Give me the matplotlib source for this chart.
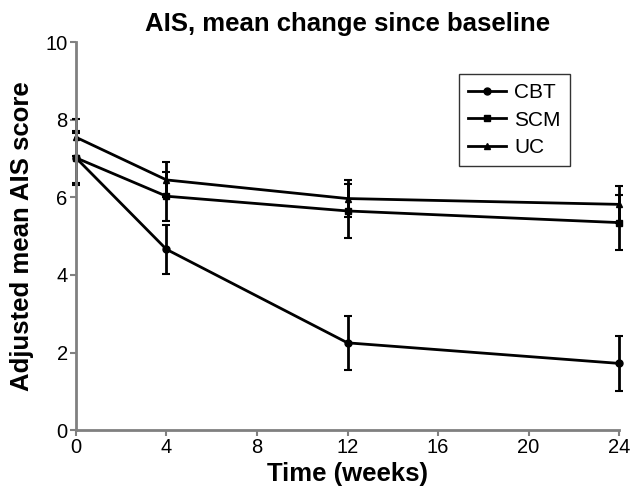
import matplotlib.pyplot as plt

weeks = [0, 4, 12, 24]

cbt = [7.02, 4.66, 2.25, 1.72]
cbt_err = [0.70, 0.63, 0.70, 0.70]

scm = [7.02, 6.03, 5.65, 5.35]
scm_err = [0.65, 0.63, 0.70, 0.70]

uc = [7.55, 6.45, 5.97, 5.82]
uc_err = [0.48, 0.45, 0.48, 0.48]

series = [('CBT', cbt, cbt_err, 'o'),
          ('SCM', scm, scm_err, 's'),
          ('UC', uc, uc_err, '^')]

plt.rcParams['font.family'] = ['Liberation Sans', 'DejaVu Sans']

fig = plt.figure(figsize=(6.33, 4.91), dpi=100)
ax = fig.add_axes([0.120, 0.124, 0.858, 0.790])

for name, vals, errs, mk in series:
    ax.errorbar(weeks, vals, yerr=errs, fmt='none', ecolor='black',
                elinewidth=2, capsize=3, capthick=1.5, clip_on=False)
    ax.plot(weeks, vals, color='black', lw=2, marker=mk, markersize=5,
            label=name, clip_on=False)

ax.set_xlim(0, 24)
ax.set_ylim(0, 10)
ax.set_xticks([0, 4, 8, 12, 16, 20, 24])
ax.set_yticks([0, 2, 4, 6, 8, 10])

for side in ['top', 'right']:
    ax.spines[side].set_visible(False)
for side in ['left', 'bottom']:
    ax.spines[side].set_color('#808080')
    ax.spines[side].set_linewidth(2)
ax.tick_params(colors='#808080', labelcolor='black', labelsize=14.5,
               length=4, width=1.5, pad=2)

ax.set_title('AIS, mean change since baseline', fontsize=18.5,
             fontweight='bold', pad=8)
ax.set_xlabel('Time (weeks)', fontsize=18.5, fontweight='bold', labelpad=3)
ax.set_ylabel('Adjusted mean AIS score', fontsize=18.5, fontweight='bold',
              labelpad=8)

leg = ax.legend(loc='upper right', bbox_to_anchor=(0.91, 0.918),
                fontsize=15, frameon=True, fancybox=False, handlelength=1.8,
                handletextpad=0.4, borderpad=0.45, labelspacing=0.4,
                borderaxespad=0)
leg.get_frame().set_edgecolor('black')
leg.get_frame().set_linewidth(1)

fig.savefig('out.png', dpi=100)
